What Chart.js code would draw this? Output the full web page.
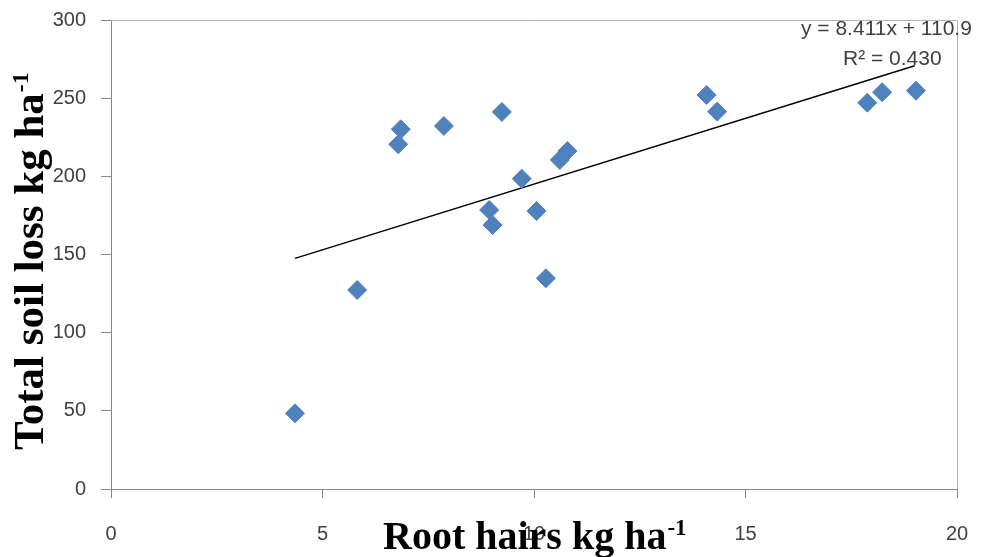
<!DOCTYPE html>
<html>
<head>
<meta charset="utf-8">
<script src="https://cdn.jsdelivr.net/npm/chart.js@4"></script>
<style>
  html, body { margin: 0; padding: 0; background: #ffffff; }
  #wrap { width: 988px; height: 557px; }
</style>
</head>
<body>
<div id="wrap"><canvas id="c" width="988" height="557"></canvas></div>
<script>
// Data
const rootHairs = [4.35, 5.82, 6.79, 6.85, 7.87, 8.94, 9.02, 9.24, 9.71, 10.06, 10.28, 10.61, 10.79, 14.08, 14.33, 17.88, 18.23, 19.03];
const soilLoss  = [48.4, 127.3, 220.5, 230.1, 232.2, 178.5, 168.9, 241.2, 198.5, 177.8, 134.8, 210.5, 216.2, 252.0, 241.4, 247.1, 253.8, 254.8];
const trendX = [4.35, 19.0];
const trendY = [147.5, 270.7];
const xTicks = [0, 5, 10, 15, 20];
const yTicks = [0, 50, 100, 150, 200, 250, 300];
const equationText = "y = 8.411x + 110.9";
const r2Text = "R\u00B2 = 0.430";
const xTitle = "Root hairs kg ha";
const yTitle = "Total soil loss kg ha";
const titleSup = "-1";

const scatterPts = rootHairs.map((x, i) => ({ x: x, y: soilLoss[i] }));
const trendPts = trendX.map((x, i) => ({ x: x, y: trendY[i] }));

const decorPlugin = {
  id: 'decor',
  beforeDatasetsDraw(chart) {
    const { ctx, chartArea: a } = chart;
    ctx.save();
    ctx.strokeStyle = '#b4b4b4';
    ctx.lineWidth = 1;
    ctx.beginPath();
    ctx.moveTo(a.left, a.top + 0.5);
    ctx.lineTo(a.right + 0.5, a.top + 0.5);
    ctx.lineTo(a.right + 0.5, a.bottom);
    ctx.stroke();
    ctx.restore();
  },
  afterDraw(chart) {
    const { ctx } = chart;
    ctx.save();
    ctx.fillStyle = '#000000';
    ctx.textBaseline = 'alphabetic';
    ctx.textAlign = 'left';
    // X axis title
    ctx.font = 'bold 40px "Liberation Serif", "Times New Roman", serif';
    const xw = ctx.measureText(xTitle).width;
    ctx.fillText(xTitle, 383, 549);
    ctx.font = 'bold 23px "Liberation Serif", "Times New Roman", serif';
    ctx.fillText(titleSup, 383 + xw + 1, 535);
    // Y axis title
    ctx.translate(43, 450);
    ctx.rotate(-Math.PI / 2);
    ctx.font = 'bold 43px "Liberation Serif", "Times New Roman", serif';
    const yw = ctx.measureText(yTitle).width;
    ctx.fillText(yTitle, 0, 0);
    ctx.font = 'bold 24px "Liberation Serif", "Times New Roman", serif';
    ctx.fillText(titleSup, yw + 1, -15);
    ctx.restore();
    // Trendline equation
    ctx.save();
    ctx.fillStyle = '#404040';
    ctx.font = '21px "Liberation Sans", Arial, sans-serif';
    ctx.textAlign = 'left';
    ctx.textBaseline = 'alphabetic';
    ctx.fillText(equationText, 801, 35);
    ctx.fillText(r2Text, 843, 65);
    ctx.restore();
  }
};

new Chart(document.getElementById('c'), {
  type: 'scatter',
  data: {
    datasets: [
      {
        type: 'line',
        label: 'Linear trend',
        data: trendPts,
        borderColor: '#000000',
        borderWidth: 1.5,
        pointRadius: 0,
        fill: false,
        order: 2
      },
      {
        label: 'Total soil loss',
        data: scatterPts,
        pointStyle: 'rectRot',
        pointRadius: 9.5,
        pointHoverRadius: 9.5,
        backgroundColor: '#4F81BD',
        borderColor: '#4F81BD',
        borderWidth: 1,
        order: 1
      }
    ]
  },
  options: {
    responsive: false,
    animation: false,
    devicePixelRatio: 1,
    layout: { padding: { left: 0, top: 20, right: 31, bottom: 0 } },
    plugins: {
      legend: { display: false },
      tooltip: { enabled: false },
      title: { display: false }
    },
    scales: {
      x: {
        type: 'linear',
        min: 0, max: 20,
        afterFit(scale) {
          scale.height = 68;
          scale.paddingLeft = 0; scale.paddingRight = 0;
        },
        afterBuildTicks(scale) { scale.ticks = xTicks.map(v => ({ value: v })); },
        grid: { drawOnChartArea: false, drawTicks: true, tickLength: 9, color: '#868686' },
        border: { display: true, color: '#868686', width: 1 },
        ticks: {
          padding: 24,
          color: '#404040',
          font: { family: '"Liberation Sans", Arial, sans-serif', size: 20 },
          maxRotation: 0
        }
      },
      y: {
        type: 'linear',
        min: 0, max: 300,
        afterFit(scale) {
          scale.width = 111;
          scale.paddingTop = 0; scale.paddingBottom = 0;
        },
        afterBuildTicks(scale) { scale.ticks = yTicks.map(v => ({ value: v })); },
        grid: { drawOnChartArea: false, drawTicks: true, tickLength: 10, color: '#868686' },
        border: { display: true, color: '#868686', width: 1 },
        ticks: {
          padding: 15,
          color: '#404040',
          font: { family: '"Liberation Sans", Arial, sans-serif', size: 20 }
        }
      }
    }
  },
  plugins: [decorPlugin]
});
</script>
</body>
</html>
